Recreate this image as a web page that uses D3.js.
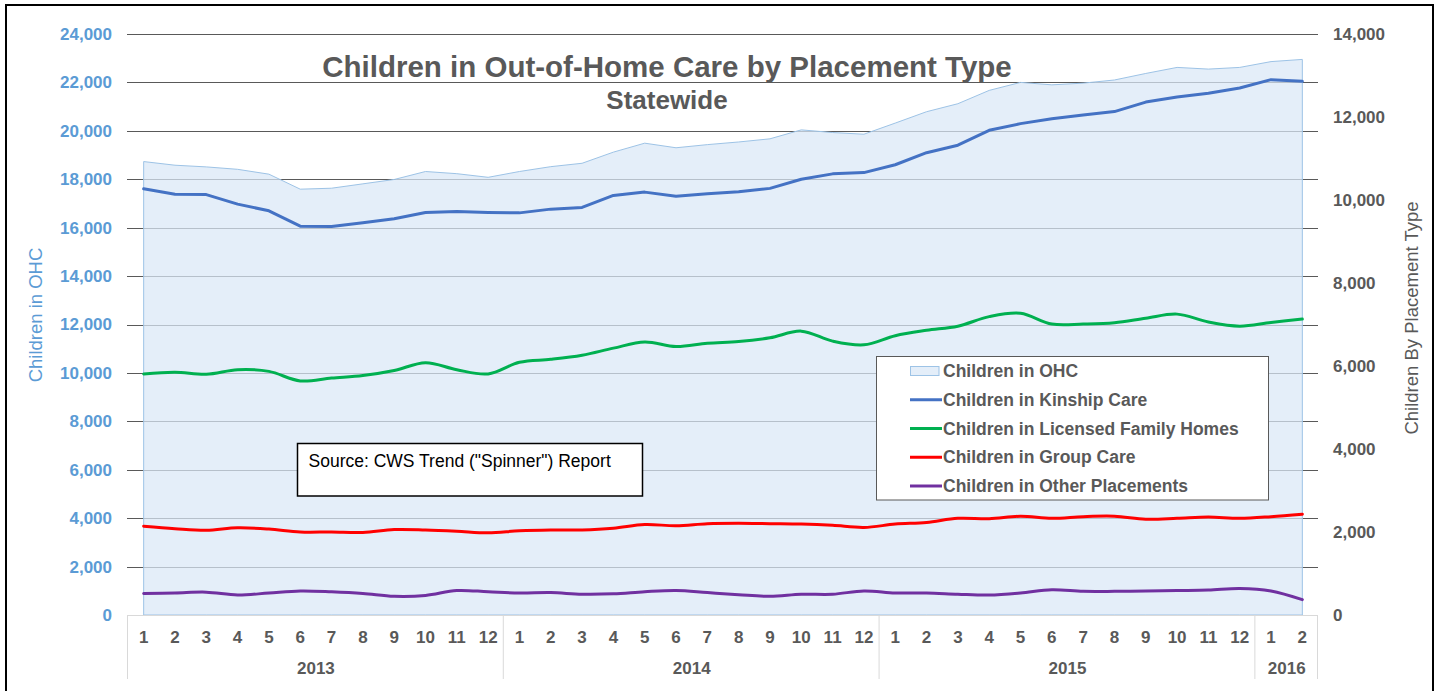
<!DOCTYPE html>
<html><head><meta charset="utf-8">
<script src="https://cdn.jsdelivr.net/npm/d3@7"></script>
<style>body{margin:0;background:#fff}svg{display:block;font-family:Arial,"Liberation Sans",sans-serif}</style>
</head><body><svg id="c" width="1439" height="691"></svg>
<script>
// ---- data ----
const monthLabels = ["1","2","3","4","5","6","7","8","9","10","11","12",
                     "1","2","3","4","5","6","7","8","9","10","11","12",
                     "1","2","3","4","5","6","7","8","9","10","11","12",
                     "1","2"];
const yearLabels = ["2013","2014","2015","2016"];
const yearMonthCounts = [12,12,12,2];
const leftTicks = [0,2000,4000,6000,8000,10000,12000,14000,16000,18000,20000,22000,24000];
const rightTicks = [0,2000,4000,6000,8000,10000,12000,14000];
// Children in OHC (left axis)
const ohcTotal = [18730,18580,18510,18410,18210,17590,17630,17810,17990,18320,18230,18080,
                  18320,18520,18660,19120,19490,19300,19430,19540,19670,20040,19930,19860,
                  20320,20790,21120,21670,22000,21900,21970,22100,22370,22620,22550,22620,
                  22860,22950];
// placement types (right axis)
const kinshipCare = [10270,10140,10130,9900,9740,9370,9360,9450,9550,9700,9720,9700,
                     9690,9780,9820,10110,10190,10090,10150,10200,10280,10500,10630,10660,
                     10850,11140,11320,11680,11840,11960,12050,12130,12360,12480,12570,12700,
                     12900,12860];
const licensedFamilyHomes = [5810,5850,5800,5910,5870,5640,5710,5770,5890,6080,5910,5810,
                     6090,6160,6260,6430,6580,6470,6550,6590,6680,6840,6600,6510,
                     6730,6860,6960,7190,7270,7010,7010,7040,7150,7250,7060,6960,
                     7050,7130];
const groupCare = [2140,2080,2040,2100,2070,2000,2000,1990,2060,2050,2020,1980,
                   2030,2050,2050,2090,2180,2150,2200,2210,2200,2190,2160,2110,
                   2190,2230,2330,2320,2380,2330,2370,2380,2310,2330,2360,2330,
                   2370,2430];
const otherPlacements = [520,530,550,480,530,580,560,520,450,470,590,560,
                   530,540,500,510,560,590,540,490,450,500,500,580,
                   530,530,500,480,530,610,570,570,580,590,600,640,
                   580,370];
const seriesNames = ["Children in OHC","Children in Kinship Care","Children in Licensed Family Homes",
                     "Children in Group Care","Children in Other Placements"];

// ---- layout ----
const svg = d3.select("#c");
const L = 128, R = 1318, T = 34, B = 615;
const x = d3.scaleBand().domain(d3.range(monthLabels.length)).range([L, R]).padding(0);
const xc = i => x(i) + x.bandwidth() / 2;
const yL = d3.scaleLinear().domain([0, 24000]).range([B, T]);
const yR = d3.scaleLinear().domain([0, 14000]).range([B, T]);

// gridlines
svg.append("g").selectAll("line").data(leftTicks.filter(d => d > 0)).join("line")
  .attr("x1", L - 1).attr("x2", R).attr("y1", d => Math.round(yL(d)) + 0.5).attr("y2", d => Math.round(yL(d)) + 0.5)
  .attr("stroke", "#595959").attr("stroke-width", 1);

// area
const area = d3.area().x((d, i) => xc(i)).y0(yL(0)).y1(d => yL(d));
svg.append("path").datum(ohcTotal).attr("d", area)
  .attr("fill", "rgb(218,232,246)").attr("fill-opacity", 0.72)
  .attr("stroke", "#9dc3e6").attr("stroke-width", 1);

// x-axis baseline & separators
svg.append("line").attr("x1", L - 1).attr("x2", R).attr("y1", B + 0.5).attr("y2", B + 0.5)
  .attr("stroke", "#d9d9d9");
let acc = 0;
const sepIdx = [0];
yearMonthCounts.forEach(c => { acc += c; sepIdx.push(acc); });
svg.append("g").selectAll("line").data(sepIdx).join("line")
  .attr("x1", d => (d < monthLabels.length ? x(d) : R) - 0.5)
  .attr("x2", d => (d < monthLabels.length ? x(d) : R) - 0.5)
  .attr("y1", B).attr("y2", 679).attr("stroke", "#d9d9d9");

// month labels
const xAxis = d3.axisBottom(x).tickFormat(i => monthLabels[i]).tickSize(0).tickPadding(16);
const gx = svg.append("g").attr("transform", `translate(0,${B})`).call(xAxis);
gx.select(".domain").remove();
gx.selectAll("text").attr("font-size", 17).attr("font-weight", "bold").attr("fill", "#595959")
  .attr("font-family", "Arial, 'Liberation Sans', sans-serif");

// year labels
let start = 0;
const yearPos = yearMonthCounts.map(c => { const s = start; start += c; return (x(s) + (s + c < monthLabels.length ? x(s + c) : R)) / 2; });
svg.append("g").selectAll("text").data(yearLabels).join("text")
  .attr("x", (d, i) => yearPos[i]).attr("y", 674).attr("text-anchor", "middle")
  .attr("font-size", 17).attr("font-weight", "bold").attr("fill", "#595959").text(d => d);

// left axis
const gl = svg.append("g").attr("transform", `translate(${L},0)`)
  .call(d3.axisLeft(yL).tickValues(leftTicks).tickFormat(d3.format(",")).tickSize(0).tickPadding(16));
gl.select(".domain").remove();
gl.selectAll("text").attr("font-size", 17).attr("font-weight", "bold").attr("fill", "#5b9bd5")
  .attr("font-family", "Arial, 'Liberation Sans', sans-serif");

// right axis
const gr = svg.append("g").attr("transform", `translate(${R},0)`)
  .call(d3.axisRight(yR).tickValues(rightTicks).tickFormat(d3.format(",")).tickSize(0).tickPadding(15));
gr.select(".domain").remove();
gr.selectAll("text").attr("font-size", 17).attr("font-weight", "bold").attr("fill", "#595959")
  .attr("font-family", "Arial, 'Liberation Sans', sans-serif");

// lines
const lineSmooth = d3.line().x((d, i) => xc(i)).y(d => yR(d)).curve(d3.curveCatmullRom.alpha(0.5));
const lineStraight = d3.line().x((d, i) => xc(i)).y(d => yR(d));
const lines = [
  {data: kinshipCare, color: "#4472c4", gen: lineStraight},
  {data: licensedFamilyHomes, color: "#00b050", gen: lineSmooth},
  {data: groupCare, color: "#ff0000", gen: lineSmooth},
  {data: otherPlacements, color: "#7030a0", gen: lineSmooth}
];
lines.forEach(s => {
  svg.append("path").datum(s.data).attr("d", s.gen).attr("fill", "none")
    .attr("stroke", s.color).attr("stroke-width", 3).attr("stroke-linejoin", "round").attr("stroke-linecap", "round");
});

// axis titles
svg.append("text").attr("transform", "translate(41.5,315) rotate(-90)").attr("text-anchor", "middle")
  .attr("font-size", 18.5).attr("fill", "#5b9bd5").text("Children in OHC");
svg.append("text").attr("transform", "translate(1418,318) rotate(-90)").attr("text-anchor", "middle")
  .attr("font-size", 18.5).attr("fill", "#595959").text("Children By Placement Type");

// title
svg.append("text").attr("x", 667).attr("y", 77).attr("text-anchor", "middle")
  .attr("font-size", 29.5).attr("font-weight", "bold").attr("fill", "#595959")
  .text("Children in Out-of-Home Care by Placement Type");
svg.append("text").attr("x", 667).attr("y", 108.5).attr("text-anchor", "middle")
  .attr("font-size", 26).attr("font-weight", "bold").attr("fill", "#595959").text("Statewide");

// source box
svg.append("rect").attr("x", 297.5).attr("y", 443.5).attr("width", 345).attr("height", 52.5)
  .attr("fill", "#fff").attr("stroke", "#000").attr("stroke-width", 1.5);
svg.append("text").attr("x", 308.5).attr("y", 466.5).attr("font-size", 17.5).attr("fill", "#000")
  .text('Source: CWS Trend ("Spinner") Report');

// legend
const lg = svg.append("g");
lg.append("rect").attr("x", 876.5).attr("y", 356.5).attr("width", 392).attr("height", 143.5)
  .attr("fill", "#fff").attr("stroke", "#595959").attr("stroke-width", 1);
const legendColors = [null, "#4472c4", "#00b050", "#ff0000", "#7030a0"];
seriesNames.forEach((name, i) => {
  const cy = 371 + i * 28.75;
  if (i === 0) {
    lg.append("rect").attr("x", 910.5).attr("y", cy - 4.5).attr("width", 28.5).attr("height", 9)
      .attr("fill", "rgb(218,232,246)").attr("fill-opacity", 0.72).attr("stroke", "#9dc3e6");
  } else {
    lg.append("line").attr("x1", 910).attr("x2", 942).attr("y1", cy).attr("y2", cy)
      .attr("stroke", legendColors[i]).attr("stroke-width", 3);
  }
  lg.append("text").attr("x", 943).attr("y", cy + 6.2).attr("font-size", 17.5).attr("font-weight", "bold")
    .attr("fill", "#595959").text(name);
});

// outer border
svg.append("rect").attr("x", 6).attr("y", 5).attr("width", 1427).attr("height", 720)
  .attr("fill", "none").attr("stroke", "#000").attr("stroke-width", 2);
</script>
</body></html>
